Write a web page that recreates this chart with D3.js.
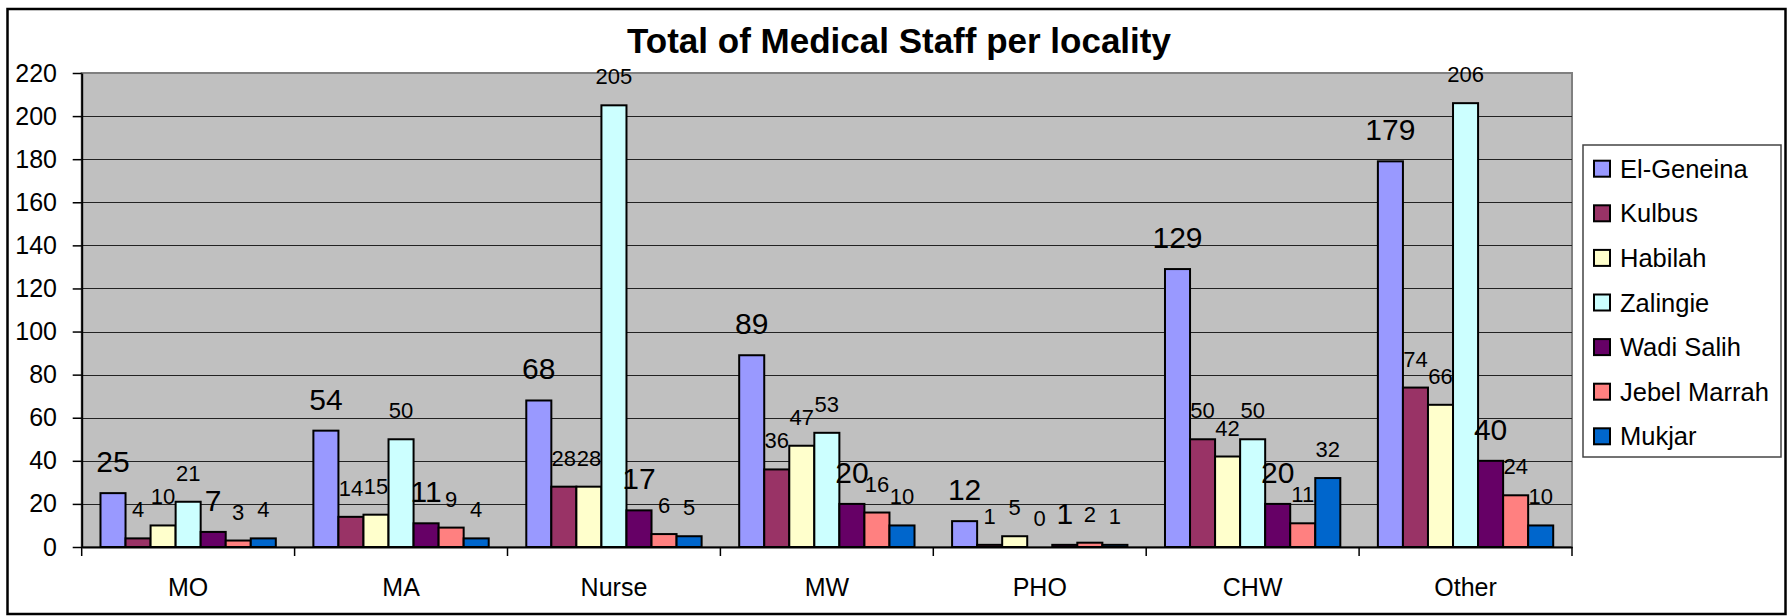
<!DOCTYPE html>
<html>
<head>
<meta charset="utf-8">
<script src="https://cdn.jsdelivr.net/npm/d3@7"></script>
<style>
  body { margin: 0; background: #fff; }
  text { font-family: "Liberation Sans", Arial, sans-serif; fill: #000; }
</style>
</head>
<body>
<div id="chart"></div>
<script>
// Staff categories (x axis)
var categories = ["MO", "MA", "Nurse", "MW", "PHO", "CHW", "Other"];

// Localities (series)
var localities = ["El-Geneina", "Kulbus", "Habilah", "Zalingie", "Wadi Salih", "Jebel Marrah", "Mukjar"];

// One array per locality, in category order
var elGeneina   = [25, 54, 68, 89, 12, 129, 179];
var kulbus      = [4, 14, 28, 36, 1, 50, 74];
var habilah     = [10, 15, 28, 47, 5, 42, 66];
var zalingie    = [21, 50, 205, 53, 0, 50, 206];
var wadiSalih   = [7, 11, 17, 20, 1, 20, 40];
var jebelMarrah = [3, 9, 6, 16, 2, 11, 24];
var mukjar      = [4, 4, 5, 10, 1, 32, 10];

var seriesValues = [elGeneina, kulbus, habilah, zalingie, wadiSalih, jebelMarrah, mukjar];
var yTicks = [0, 20, 40, 60, 80, 100, 120, 140, 160, 180, 200, 220];

var colors = ["#9999FF", "#993366", "#FFFFCC", "#CCFFFF", "#660066", "#FF8080", "#0066CC"];
// series whose data labels were drawn in the larger font
var bigLabel = ["El-Geneina", "Wadi Salih"];

var W = 1789, H = 616;
var margin = {top: 73, left: 81.7};
var width = 1572 - margin.left;
var height = 547 - margin.top;

var svg = d3.select("#chart").append("svg")
  .attr("width", W)
  .attr("height", H);

svg.append("rect").attr("width", W).attr("height", H).style("fill", "#fff");

// outer frame
svg.append("rect")
  .attr("x", 7.5).attr("y", 9)
  .attr("width", 1778).attr("height", 605)
  .style("fill", "none")
  .style("stroke", "#000")
  .style("stroke-width", 2.5);

// title
svg.append("text")
  .attr("x", 899)
  .attr("y", 53)
  .attr("text-anchor", "middle")
  .style("font-size", "35px")
  .style("font-weight", "bold")
  .text("Total of Medical Staff per locality");

var g = svg.append("g")
  .attr("transform", "translate(" + margin.left + "," + margin.top + ")");

var y = d3.scaleLinear().domain([0, 220]).range([height, 0]);
var x0 = d3.scaleBand().domain(categories).range([0, width]).padding(0);
var x1 = d3.scaleBand().domain(localities).range([0, x0.bandwidth()])
  .paddingInner(0).paddingOuter(0.75);

// plot area
g.append("rect")
  .attr("width", width).attr("height", height)
  .style("fill", "#C0C0C0")
  .style("stroke", "#808080")
  .style("stroke-width", 2);

// gridlines
g.selectAll(".grid")
  .data(yTicks.filter(function(d) { return d > 0 && d < 220; }))
  .enter().append("line")
  .attr("class", "grid")
  .attr("x1", 0).attr("x2", width)
  .attr("y1", function(d) { return Math.round(y(d)) + 0.5; })
  .attr("y2", function(d) { return Math.round(y(d)) + 0.5; })
  .style("stroke", "#222")
  .style("stroke-width", 1.2);

// bars
var rows = categories.map(function(c, i) {
  return localities.map(function(l, j) {
    return {cat: c, loc: l, idx: j, value: seriesValues[j][i]};
  });
});

var groups = g.selectAll(".group")
  .data(rows)
  .enter().append("g")
  .attr("class", "group")
  .attr("transform", function(d, i) { return "translate(" + x0(categories[i]) + ",0)"; });

groups.selectAll("rect")
  .data(function(d) { return d; })
  .enter().append("rect")
  .attr("x", function(d) { return x1(d.loc); })
  .attr("width", x1.bandwidth())
  .attr("y", function(d) { return y(d.value); })
  .attr("height", function(d) { return height - y(d.value); })
  .style("fill", function(d) { return colors[d.idx]; })
  .style("stroke", "#000")
  .style("stroke-width", 2);

groups.selectAll(".label")
  .data(function(d) { return d; })
  .enter().append("text")
  .attr("class", "label")
  .attr("x", function(d) { return x1(d.loc) + x1.bandwidth() / 2; })
  .attr("y", function(d) { return y(d.value) - 21; })
  .attr("text-anchor", "middle")
  .style("font-size", function(d) { return bigLabel.indexOf(d.loc) >= 0 ? "30px" : "22px"; })
  .text(function(d) { return d.value; });

// y axis
var yAxis = g.append("g")
  .call(d3.axisLeft(y).tickValues(yTicks).tickSize(9).tickPadding(15.7).tickSizeOuter(0));
yAxis.select(".domain").style("stroke", "#000").style("stroke-width", 2);
yAxis.selectAll(".tick line").style("stroke", "#000").style("stroke-width", 1.5);
yAxis.selectAll("text").style("font-size", "25px").style("font-family", null);

// x axis
var xAxis = g.append("g")
  .attr("transform", "translate(0," + height + ")")
  .call(d3.axisBottom(x0).tickSize(0).tickSizeOuter(0));
xAxis.select(".domain").style("stroke", "#000").style("stroke-width", 2);
xAxis.selectAll("text")
  .attr("y", 49).attr("dy", null)
  .style("font-size", "25px").style("font-family", null);

// category boundary ticks
var bounds = categories.map(function(c) { return x0(c); }).concat([width]);
xAxis.selectAll(".bound")
  .data(bounds)
  .enter().append("line")
  .attr("class", "bound")
  .attr("x1", function(d) { return d; }).attr("x2", function(d) { return d; })
  .attr("y1", 0).attr("y2", 9)
  .style("stroke", "#000")
  .style("stroke-width", 1.5);

// legend
var legend = svg.append("g").attr("transform", "translate(1583,145)");
legend.append("rect")
  .attr("width", 198).attr("height", 312)
  .style("fill", "#fff")
  .style("stroke", "#444")
  .style("stroke-width", 1.5);

var items = legend.selectAll(".item")
  .data(localities)
  .enter().append("g")
  .attr("class", "item")
  .attr("transform", function(d, i) { return "translate(0," + (15.7 + i * 44.6) + ")"; });

items.append("rect")
  .attr("x", 11).attr("y", 0)
  .attr("width", 16).attr("height", 16)
  .style("fill", function(d, i) { return colors[i]; })
  .style("stroke", "#000")
  .style("stroke-width", 2);

items.append("text")
  .attr("x", 37)
  .attr("y", 8)
  .attr("dy", "0.36em")
  .style("font-size", "25.5px")
  .text(function(d) { return d; });
</script>
</body>
</html>
